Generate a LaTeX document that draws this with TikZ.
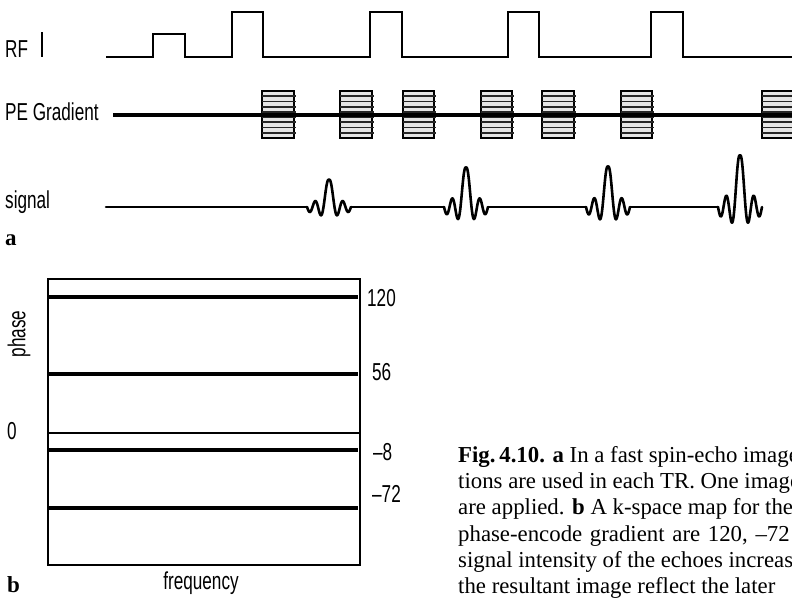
\documentclass[tikz,border=0pt]{standalone}
\usepackage{fontspec}
\setmainfont{Liberation Serif}
\newfontfamily\labfont[FakeStretch=0.70]{Liberation Sans}
\begin{document}
\begin{tikzpicture}[x=1pt,y=-1pt,
  wave/.style={line width=2.6pt, line join=miter},
  sig/.style={line width=2.6pt, line join=round, line cap=round},
  lbl/.style={font=\labfont\fontsize{24.5}{28}\selectfont, inner sep=0pt, anchor=base west},
  gradbox/.style={fill=gray!20, draw=black, line width=1.7pt},
  stripe/.style={line width=1.8pt, draw=black!85},
  kline/.style={line width=3.2pt},
  zeroline/.style={line width=1.4pt},
  captxt/.style={font=\fontsize{22.8}{26}\selectfont, inner sep=0pt, anchor=base west},
  panel/.style={font=\bfseries\fontsize{23}{26}\selectfont, inner sep=0pt, anchor=base west}]
\useasboundingbox (0,0) rectangle (792,598);
\clip (0,0) rectangle (792,598);

% ---------- RF row ----------
\node[lbl] (rf) at (5,57) {RF};
\draw[line width=2.8pt] (42,32) -- (42,57);
\draw[wave] (106,57) -- (153,57) -- (153,34) -- (185,34) -- (185,57)
  -- (232,57) -- (232,12) -- (263,12) -- (263,57)
  -- (370,57) -- (370,12) -- (402,12) -- (402,57)
  -- (508,57) -- (508,12) -- (539,12) -- (539,57)
  -- (651,57) -- (651,12) -- (683,12) -- (683,57) -- (800,57);

% ---------- PE gradient row ----------
\node[lbl] (pe) at (5,120) {PE Gradient};
\foreach \bx/\bw in {262/32, 340/32, 403/31, 481/31, 542/32, 621/31, 762/40}{
  \draw[gradbox] (\bx,91) rectangle ++(\bw,47);
  \foreach \i in {1,...,8}
    \draw[stripe] (\bx,{91+\i*47/9}) -- ++({\bw+2},0);
}
\draw[line width=3.2pt] (113,115) -- (800,115);

% ---------- signal row ----------
\node[lbl] (sg) at (5,208) {signal};
\draw[sig] (106,207) -- (307,207);
\draw[sig] (351,207) -- (444,207);
\draw[sig] (488,207) -- (586,207);
\draw[sig] (630,207) -- (718,207);
\foreach \c/\A in {329/27, 466/39, 608/40, 740/51}{
  \draw[sig] plot[smooth, domain=-4:4, samples=81]
    ({\c+5.5*\x},{207-\A*(1+0.3*abs(\x))*sin(180*\x)/(3.14159*\x+0.00001)});
}
\node[panel] (pa) at (5,245) {a};

% ---------- k-space map ----------
\draw[line width=1.6pt] (48,279) rectangle (360,565);
\draw[kline] (48,297) -- (358,297);
\draw[kline] (48,374) -- (358,374);
\draw[zeroline] (48,433) -- (360,433);
\draw[kline] (48,450) -- (358,450);
\draw[kline] (48,508) -- (358,508);
\node[lbl, anchor=west] (l120) at (367,298) {120};
\node[lbl, anchor=west] (l56) at (372,372) {56};
\node[lbl, anchor=west] (lm8) at (373,452) {–8};
\node[lbl, anchor=west] (lm72) at (372,494) {–72};
\node[lbl, anchor=west] (l0) at (7,431) {0};
\node[lbl, anchor=center, rotate=90] (ph) at (19,334) {phase};
\node[lbl, anchor=base] (fr) at (201,589) {frequency};
\node[panel] (pb) at (7,592) {b};

% ---------- caption ----------
\node[captxt] (c1) at (458,462.5) {\textbf{Fig.\,4.10. a} In a fast spin-echo image};
\node[captxt] (c2) at (458,488.7) {tions are used in each TR. One image};
\node[captxt] (c3) at (458,514.9) {are applied. \textbf{b} A k-space map for the};
\node[captxt] (c4) at (458,541.1) {phase-encode\hspace{2pt} gradient\hspace{2pt} are\hspace{2pt} 120,\hspace{2pt} –72};
\node[captxt] (c5) at (458,567.3) {signal intensity of the echoes increases};
\node[captxt] (c6) at (458,593.5) {the resultant image reflect the later};
\end{tikzpicture}
\end{document}
